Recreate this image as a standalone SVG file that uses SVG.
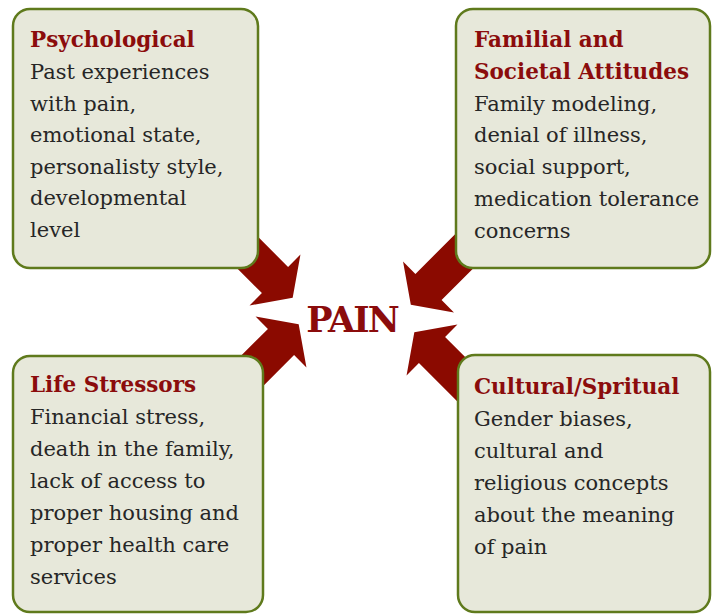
<svg xmlns="http://www.w3.org/2000/svg" width="714" height="614" viewBox="0 0 714 614">
<defs>
<style>
.box{fill:#e7e8da;stroke:#5f7a1c;stroke-width:2.5}
.arrow{fill:#8b0a00}
.title{font-family:"DejaVu Serif",serif;font-weight:bold;font-size:21.5px;fill:#8b0c0c}
.body{font-family:"DejaVu Serif",serif;font-size:21px;fill:#262626}
.pain{font-family:"DejaVu Serif",serif;font-weight:bold;font-size:35px;fill:#8b0c0c;letter-spacing:-2px}
</style>
<path id="arr" d="M -95,-18.5 L 0,-18.5 L 0,-36 L 25,0 L 0,36 L 0,18.5 L -95,18.5 Z"/>
</defs>
<rect width="714" height="614" fill="#ffffff"/>
<g id="connectors">
<use href="#arr" class="arrow" transform="translate(275,280) rotate(45)"/>
<use href="#arr" class="arrow" transform="translate(428.5,287) rotate(135)"/>
<use href="#arr" class="arrow" transform="translate(281,342) rotate(-45)"/>
<use href="#arr" class="arrow" transform="translate(432,350) rotate(-135)"/>
</g>
<g id="psychological">
<rect class="box" x="13" y="9" width="245" height="259" rx="17"/>
<text class="title" x="30" y="47">Psychological</text>
<text class="body" x="30" y="79">Past experiences</text>
<text class="body" x="30" y="111">with pain,</text>
<text class="body" x="30" y="142">emotional state,</text>
<text class="body" x="30" y="174">personalisty style,</text>
<text class="body" x="30" y="205">developmental</text>
<text class="body" x="30" y="237">level</text>
</g>
<g id="familial">
<rect class="box" x="456" y="9" width="254" height="259" rx="17"/>
<text class="title" x="474" y="47">Familial and</text>
<text class="title" x="474" y="79">Societal Attitudes</text>
<text class="body" x="474" y="111">Family modeling,</text>
<text class="body" x="474" y="142">denial of illness,</text>
<text class="body" x="474" y="174">social support,</text>
<text class="body" x="474" y="206">medication tolerance</text>
<text class="body" x="474" y="238">concerns</text>
</g>
<g id="life-stressors">
<rect class="box" x="13" y="356" width="250" height="256" rx="17"/>
<text class="title" x="30" y="392">Life Stressors</text>
<text class="body" x="30" y="424">Financial stress,</text>
<text class="body" x="30" y="456">death in the family,</text>
<text class="body" x="30" y="488">lack of access to</text>
<text class="body" x="30" y="520">proper housing and</text>
<text class="body" x="30" y="552">proper health care</text>
<text class="body" x="30" y="584">services</text>
</g>
<g id="cultural">
<rect class="box" x="458" y="355" width="252" height="257" rx="17"/>
<text class="title" x="474" y="394">Cultural/Spritual</text>
<text class="body" x="474" y="426">Gender biases,</text>
<text class="body" x="474" y="458">cultural and</text>
<text class="body" x="474" y="490">religious concepts</text>
<text class="body" x="474" y="522">about the meaning</text>
<text class="body" x="474" y="554">of pain</text>
</g>
<g id="pain">
<text class="pain" x="352" y="332" text-anchor="middle">PAIN</text>
</g>
</svg>
